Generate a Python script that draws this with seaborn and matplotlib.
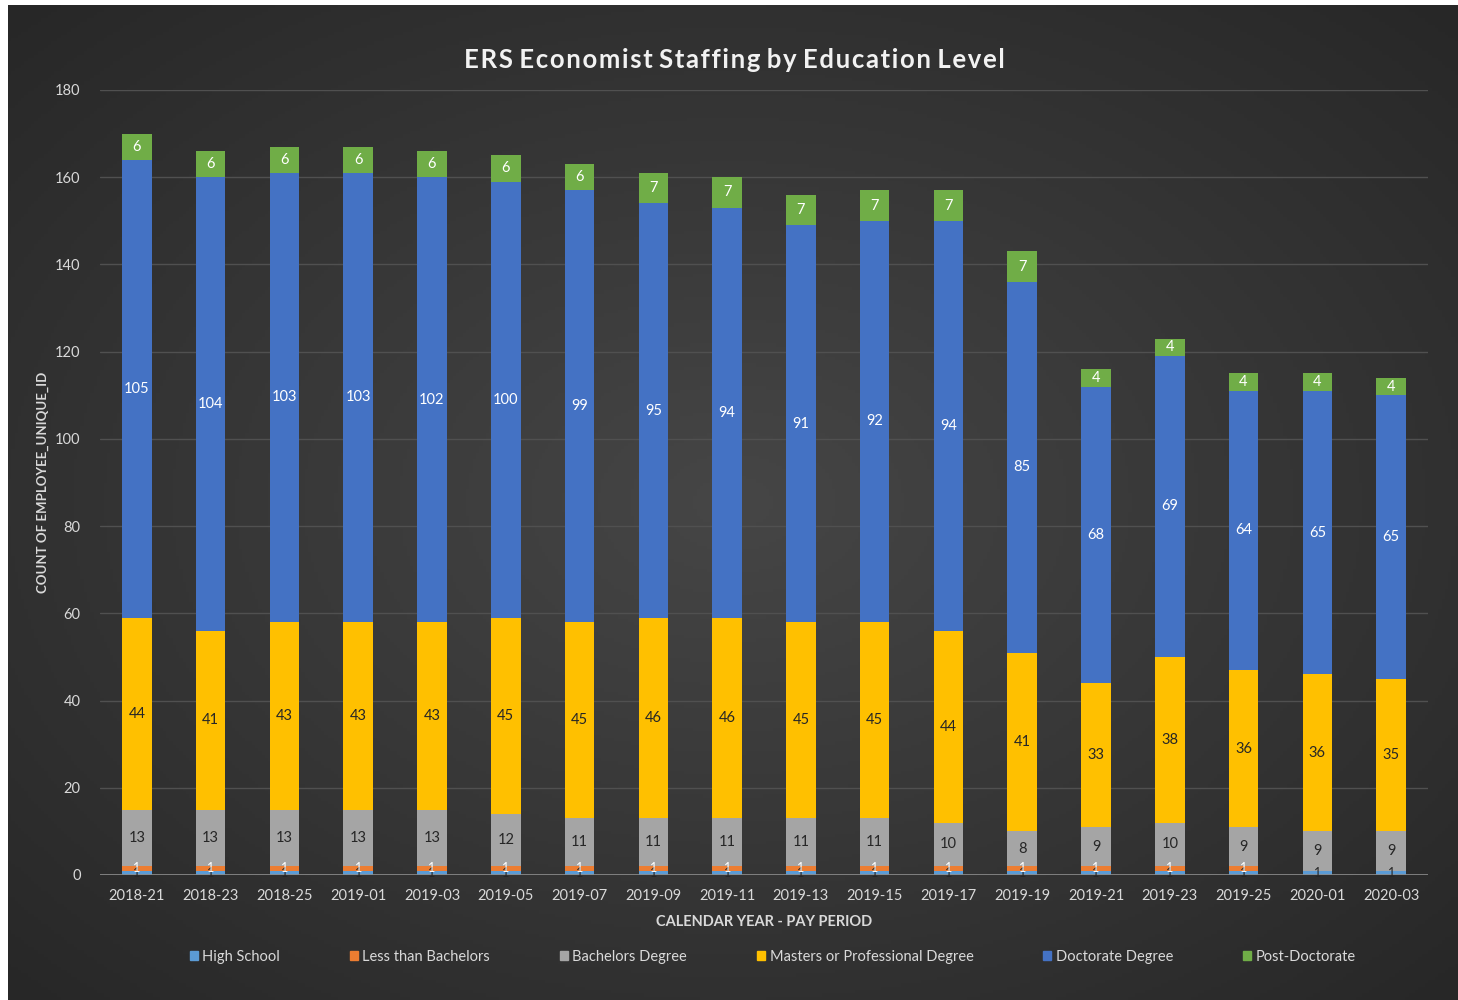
# ERS economist staffing - stacked bars by education level

import numpy as np
import pandas as pd
import matplotlib
matplotlib.use("Agg")
import matplotlib.pyplot as plt
import seaborn as sns
from matplotlib.patches import Patch

# dados
periodos = ['2018-21', '2018-23', '2018-25', '2019-01', '2019-03', '2019-05',
            '2019-07', '2019-09', '2019-11', '2019-13', '2019-15', '2019-17',
            '2019-19', '2019-21', '2019-23', '2019-25', '2020-01', '2020-03']
high_school = [1, 1, 1, 1, 1, 1, 1, 1, 1, 1, 1, 1, 1, 1, 1, 1, 1, 1]
less_bach = [1, 1, 1, 1, 1, 1, 1, 1, 1, 1, 1, 1, 1, 1, 1, 1, 0, 0]
bachelors = [13, 13, 13, 13, 13, 12, 11, 11, 11, 11, 11, 10, 8, 9, 10, 9, 9, 9]
masters = [44, 41, 43, 43, 43, 45, 45, 46, 46, 45, 45, 44, 41, 33, 38, 36, 36, 35]
doctorate = [105, 104, 103, 103, 102, 100, 99, 95, 94, 91, 92, 94, 85, 68, 69, 64, 65, 65]
post_doc = [6, 6, 6, 6, 6, 6, 6, 7, 7, 7, 7, 7, 7, 4, 4, 4, 4, 4]

niveis = ['High School', 'Less than Bachelors', 'Bachelors Degree',
          'Masters or Professional Degree', 'Doctorate Degree', 'Post-Doctorate']
cores = ['#5B9BD5', '#ED7D31', '#A5A5A5', '#FFC000', '#4472C4', '#70AD47']
cor_texto = ['#262626', '#ffffff', '#262626', '#262626', '#ffffff', '#ffffff']

df = pd.DataFrame({'periodo': periodos, 'High School': high_school,
                   'Less than Bachelors': less_bach, 'Bachelors Degree': bachelors,
                   'Masters or Professional Degree': masters,
                   'Doctorate Degree': doctorate, 'Post-Doctorate': post_doc})
acum = df[niveis].cumsum(axis=1)

sns.set_style('dark')
plt.rcParams['font.family'] = ['Lato', 'DejaVu Sans']

fig = plt.figure(figsize=(14.58, 10), dpi=100, facecolor='white')

# fundo escuro com gradiente radial
bg = fig.add_axes([8 / 1458, 0, 1 - 8 / 1458, 0.995])
yy, xx = np.mgrid[0:1:300j, 0:1:440j]
r = np.sqrt(((xx - 0.5) / 0.75) ** 2 + ((yy - 0.5) / 0.75) ** 2)
val = np.clip(1 - r, 0, 1)
bg.imshow(val, cmap=matplotlib.colors.LinearSegmentedColormap.from_list(
    'bg', ['#272727', '#464646']), aspect='auto', extent=[0, 1, 0, 1], origin='lower')
bg.axis('off')

ax = fig.add_axes([100 / 1458, 0.125, 1328 / 1458, 0.785])
ax.set_facecolor('none')

# barras empilhadas: desenha do total para baixo
for nivel, cor in reversed(list(zip(niveis, cores))):
    sns.barplot(x=df['periodo'], y=acum[nivel], color=cor, saturation=1,
                width=0.4, linewidth=0, ax=ax, zorder=3)

# rotulos de dados
for j, nivel in enumerate(niveis):
    base = acum[nivel] - df[nivel]
    for i, v in enumerate(df[nivel]):
        if v > 0:
            tam = 9 if j < 2 else 10.5
            ax.text(i, base[i] + v / 2, str(v), ha='center', va='center',
                    fontsize=tam, color=cor_texto[j], zorder=5)

ax.set_ylim(0, 180)
ax.set_xlim(-0.5, 17.5)
ax.set_yticks(range(0, 181, 20))
ax.grid(axis='y', color='#505050', linewidth=1, zorder=0)
ax.grid(axis='x', visible=False)
for s in ax.spines.values():
    s.set_visible(False)
ax.axhline(0, color='#8c8c8c', linewidth=1.2, zorder=4)
ax.tick_params(axis='both', length=0, labelsize=10.5, colors='#d9d9d9')
ax.tick_params(axis='y', pad=14)
ax.tick_params(axis='x', pad=10)

ax.set_xlabel('CALENDAR YEAR - PAY PERIOD', fontsize=10.5, fontweight='bold',
              color='#d9d9d9', labelpad=9)
ax.set_ylabel('COUNT OF EMPLOYEE_UNIQUE_ID', fontsize=9.5, fontweight='bold',
              color='#d9d9d9', labelpad=4)

# titulo com espacamento entre letras
titulo = 'ERS Economist Staffing by Education Level'
titulo_esp = ' '.join('\u200a'.join(p) for p in titulo.split(' '))
fig.text(0.504, 0.94, titulo_esp, ha='center', va='center', fontsize=18.5,
         fontweight='bold', color='#f2f2f2', family=['Lato', 'DejaVu Sans'])

handles = [Patch(color=c, label=n) for n, c in zip(niveis, cores)]
leg = fig.legend(handles=handles, loc='center', bbox_to_anchor=(0.53, 0.043),
                 ncol=6, frameon=False, fontsize=10.5, handlelength=0.55,
                 handleheight=0.55, handletextpad=0.3, columnspacing=4.8)
for t in leg.get_texts():
    t.set_color('#d9d9d9')

plt.savefig('out.png', dpi=100, facecolor='white')
